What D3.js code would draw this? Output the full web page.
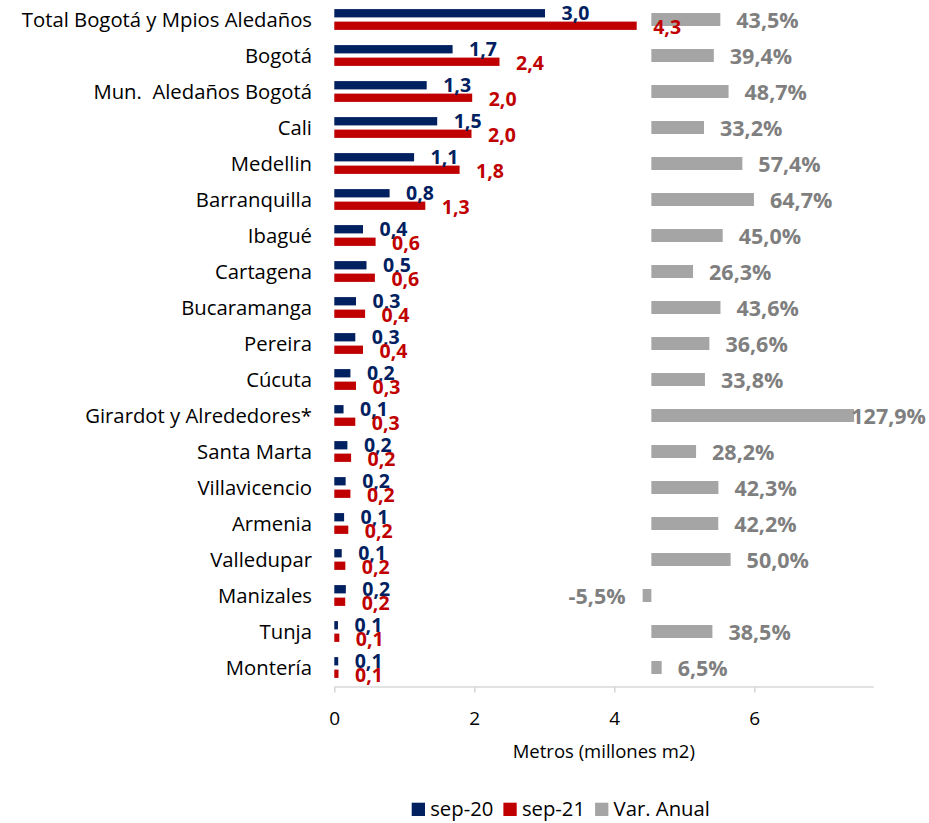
<!DOCTYPE html>
<html>
<head>
<meta charset="utf-8">
<script src="https://cdn.jsdelivr.net/npm/d3@7/dist/d3.min.js"></script>
<style>
  html, body { margin: 0; padding: 0; background: #fff; }
  svg { display: block; font-family: "Open Sans", "Noto Sans", sans-serif; }
  text { white-space: pre; }
</style>
</head>
<body>
<svg id="chart" width="929" height="823"></svg>
<script>
const categories = ["Total Bogotá y Mpios Aledaños", "Bogotá", "Mun.  Aledaños Bogotá", "Cali", "Medellin",
  "Barranquilla", "Ibagué", "Cartagena", "Bucaramanga", "Pereira", "Cúcuta", "Girardot y Alrededores*",
  "Santa Marta", "Villavicencio", "Armenia", "Valledupar", "Manizales", "Tunja", "Montería"];
const sep20 = [3.01, 1.69, 1.32, 1.47, 1.14, 0.79, 0.41, 0.46, 0.31, 0.30, 0.23, 0.132, 0.187, 0.162, 0.14, 0.106, 0.165, 0.052, 0.056];
const sep21 = [4.32, 2.36, 1.97, 1.96, 1.79, 1.30, 0.59, 0.58, 0.44, 0.41, 0.31, 0.30, 0.24, 0.23, 0.20, 0.158, 0.156, 0.072, 0.06];
const varAnual = [43.5, 39.4, 48.7, 33.2, 57.4, 64.7, 45.0, 26.3, 43.6, 36.6, 33.8, 127.9, 28.2, 42.3, 42.2, 50.0, -5.5, 38.5, 6.5];
const xTicks = [0, 2, 4, 6];
const seriesNames = ["sep-20", "sep-21", "Var. Anual"];
const axisTitle = "Metros (millones m2)";

const colors = { s20: "#002060", s21: "#C00000", varBar: "#A5A5A5", varText: "#7F7F7F" };

const svg = d3.select("#chart");
const x = d3.scaleLinear().domain([0, 7.7]).range([334.3, 873.3]);
const x2 = d3.scaleLinear().domain([-200, 140]).range([334.3, 873.3]);
const y = d3.scaleBand().domain(categories).range([1.5, 685.5]);
const bh = 8.3;
const comma = v => d3.format(".1f")(v).replace(".", ",").replace("\u2212", "-");

// axis
const axisG = svg.append("g").attr("transform", "translate(0,686.5)")
  .call(d3.axisBottom(x).tickValues(xTicks).tickSize(6).tickSizeOuter(0).tickPadding(19).tickFormat(d3.format("d")));
axisG.select(".domain").attr("stroke", "#D9D9D9").attr("stroke-width", 1.6);
axisG.selectAll(".tick line").attr("stroke", "#D9D9D9").attr("stroke-width", 1.6);
axisG.selectAll(".tick text").attr("font-size", 19).attr("fill", "#000").attr("font-family", "Open Sans");

svg.append("text").attr("x", (x.range()[0] + x.range()[1]) / 2).attr("y", 758)
  .attr("text-anchor", "middle").attr("font-size", 18.5).attr("fill", "#000").text(axisTitle);

// category labels
svg.append("g").selectAll("text").data(categories).join("text")
  .attr("x", 312).attr("y", d => y(d) + y.bandwidth() / 2)
  .attr("dy", "0.35em").attr("text-anchor", "end").attr("font-size", 20.3).attr("fill", "#000")
  .text(d => d);

const c = i => y(categories[i]) + y.bandwidth() / 2;

// bars
svg.append("g").selectAll("rect").data(sep20).join("rect")
  .attr("x", x(0)).attr("y", (d, i) => c(i) - 10.4).attr("height", bh)
  .attr("width", d => x(d) - x(0)).attr("fill", colors.s20);
svg.append("g").selectAll("rect").data(sep21).join("rect")
  .attr("x", x(0)).attr("y", (d, i) => c(i) + 2.1).attr("height", bh)
  .attr("width", d => x(d) - x(0)).attr("fill", colors.s21);
svg.append("g").selectAll("rect").data(varAnual).join("rect")
  .attr("x", d => Math.min(x2(0), x2(d))).attr("y", (d, i) => c(i) - 6.5).attr("height", 13)
  .attr("width", d => Math.abs(x2(d) - x2(0))).attr("fill", colors.varBar);

// value labels
svg.append("g").selectAll("text").data(sep20).join("text")
  .attr("x", d => x(d) + 16.5).attr("y", (d, i) => c(i) - 6.3).attr("dy", "0.36em")
  .attr("font-size", 19.5).attr("font-weight", "bold").attr("fill", colors.s20)
  .text(d => comma(d));
svg.append("g").selectAll("text").data(sep21).join("text")
  .attr("x", d => x(d) + 16.5).attr("y", (d, i) => c(i) + 7).attr("dy", "0.36em")
  .attr("font-size", 19.5).attr("font-weight", "bold").attr("fill", colors.s21)
  .text(d => comma(d));
svg.append("g").selectAll("text").data(varAnual).join("text")
  .attr("y", (d, i) => c(i) + 1).attr("dy", "0.36em")
  .attr("font-size", 21.5).attr("font-weight", "bold").attr("fill", colors.varText)
  .text(d => comma(d) + "%")
  .each(function (d) {
    const t = d3.select(this);
    const w = this.getComputedTextLength();
    if (d >= 0) {
      let px = x2(d) + 16;
      if (px + w > 926) px = 926 - w;
      t.attr("x", px).attr("text-anchor", "start");
    } else {
      t.attr("x", x2(d) - 17).attr("text-anchor", "end");
    }
  });

// legend
const legendColors = [colors.s20, colors.s21, colors.varBar];
let lx = 411.7;
const lg = svg.append("g");
seriesNames.forEach((name, i) => {
  lg.append("rect").attr("x", lx).attr("y", 802.7).attr("width", 13.3).attr("height", 13.3).attr("fill", legendColors[i]);
  const t = lg.append("text").attr("x", lx + 18.5).attr("y", 816).attr("font-size", 20.3).attr("fill", "#000").text(name);
  lx = lx + 18.5 + t.node().getComputedTextLength() + 10;
});
</script>
</body>
</html>
